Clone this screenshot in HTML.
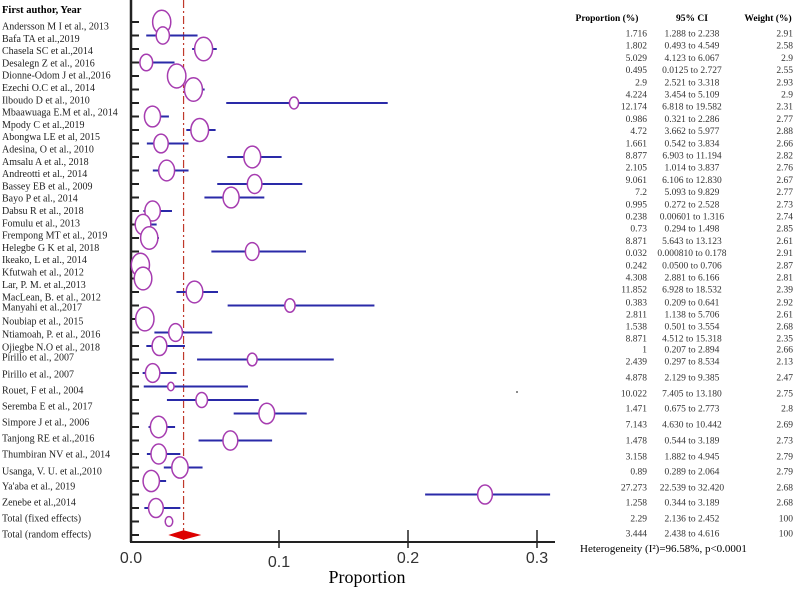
<!DOCTYPE html>
<html><head><meta charset="utf-8"><style>
body{margin:0;background:#fff;}
svg{display:block;font-family:"Liberation Serif",serif;}
</style></head><body>
<svg id="chart" width="796" height="600" viewBox="0 0 796 600" xmlns="http://www.w3.org/2000/svg">
<text x="2" y="13" font-size="10.5" font-weight="bold">First author, Year</text>
<text x="607" y="21" font-size="9.5" font-weight="bold" text-anchor="middle">Proportion (%)</text>
<text x="692" y="21" font-size="9.5" font-weight="bold" text-anchor="middle">95% CI</text>
<text x="768" y="21" font-size="9.5" font-weight="bold" text-anchor="middle">Weight (%)</text>
<text x="367" y="583" font-size="18" text-anchor="middle">Proportion</text>
<text x="580" y="552" font-size="11">Heterogeneity (I²)=96.58%, p&lt;0.0001</text>
<g id="marks"></g>
</svg>
<script>
const studies=["Andersson M I et al., 2013","Bafa TA et al.,2019","Chasela SC et al.,2014","Desalegn Z et al., 2016","Dionne-Odom J et al.,2016","Ezechi O.C et al., 2014","Ilboudo D et al., 2010","Mbaawuaga E.M et al., 2014","Mpody C et al.,2019","Abongwa LE et al, 2015","Adesina, O et al., 2010","Amsalu A et al., 2018","Andreotti et al., 2014","Bassey EB et al., 2009","Bayo P et al., 2014","Dabsu R et al., 2018","Fomulu et al., 2013","Frempong MT et al., 2019","Helegbe G K et al, 2018","Ikeako, L et al., 2014","Kfutwah et al., 2012","Lar, P. M. et al.,2013","MacLean, B. et al., 2012","Manyahi et al.,2017","Noubiap et al., 2015","Ntiamoah, P. et al., 2016","Ojiegbe N.O et al., 2018","Pirillo et al., 2007","Pirillo et al., 2007","Rouet, F et al., 2004","Seremba E et al., 2017","Simpore J et al., 2006","Tanjong RE et al.,2016","Thumbiran NV et al., 2014","Usanga, V. U. et al.,2010","Ya'aba et al., 2019","Zenebe et al.,2014","Total (fixed effects)","Total (random effects)"];
const proportion=["1.716","1.802","5.029","0.495","2.9","4.224","12.174","0.986","4.72","1.661","8.877","2.105","9.061","7.2","0.995","0.238","0.73","8.871","0.032","0.242","4.308","11.852","0.383","2.811","1.538","8.871","1","2.439","4.878","10.022","1.471","7.143","1.478","3.158","0.89","27.273","1.258","2.29","3.444"];
const ciLow=["1.288","0.493","4.123","0.0125","2.521","3.454","6.818","0.321","3.662","0.542","6.903","1.014","6.106","5.093","0.272","0.00601","0.294","5.643","0.000810","0.0500","2.881","6.928","0.209","1.138","0.501","4.512","0.207","0.297","2.129","7.405","0.675","4.630","0.544","1.882","0.289","22.539","0.344","2.136","2.438"];
const ciHigh=["2.238","4.549","6.067","2.727","3.318","5.109","19.582","2.286","5.977","3.834","11.194","3.837","12.830","9.829","2.528","1.316","1.498","13.123","0.178","0.706","6.166","18.532","0.641","5.706","3.554","15.318","2.894","8.534","9.385","13.180","2.773","10.442","3.189","4.945","2.064","32.420","3.189","2.452","4.616"];
const weights=["2.91","2.58","2.9","2.55","2.93","2.9","2.31","2.77","2.88","2.66","2.82","2.76","2.67","2.77","2.73","2.74","2.85","2.61","2.91","2.87","2.81","2.39","2.92","2.61","2.68","2.35","2.66","2.13","2.47","2.75","2.8","2.69","2.73","2.79","2.79","2.68","2.68","100","100"];
const xTicks=[0,0.1,0.2,0.3];
const xTickLabels=["0.0","0.1","0.2","0.3"];

const NS="http://www.w3.org/2000/svg";
const g=document.getElementById('marks');
function mk(tag,attrs,parent){const e=document.createElementNS(NS,tag);for(const k in attrs)e.setAttribute(k,attrs[k]);(parent||g).appendChild(e);return e;}
function xs(v){return 140+v*1265;}
function tickX(v){return v===0?131:150+v*1290;}
function rowY(i){return 22+13.5*i;}
function labelY(i){const b=[297,307,321,334,347,357,374,390,406,422,438,454,471,486,502,518,534];return i<22?26+12.3*i:b[i-22];}
function tableY(i){const b=[302,314,326,338,349,361,377,393,408,424,440,456,471,487,502,518,533];return i<22?33+12.2*i:b[i-22];}

let ax=mk('line',{x1:131,y1:0,x2:131,y2:542,stroke:'#222','stroke-width':2.5});


let bx=mk('line',{x1:130,y1:542,x2:555,y2:542,stroke:'#222','stroke-width':2});


xTicks.forEach((t,i)=>{
  const x=tickX(t);
  if(i>0){const l=mk('line',{x1:x,y1:530,x2:x,y2:548,stroke:'#222','stroke-width':1.5});
  
  }
  const tx=mk('text',{x:x,y:i===1?567:563,'font-size':16,'text-anchor':'middle','font-family':'Liberation Sans, sans-serif',fill:'#333'});
  tx.textContent=xTickLabels[i];
  
  
});
const rv=parseFloat(proportion[proportion.length-1])/100;
const rl=mk('line',{x1:xs(rv),y1:0,x2:xs(rv),y2:540,stroke:'#c0392b','stroke-width':1.2,'stroke-dasharray':'8,3,2,3'});



studies.forEach((s,i)=>{
  const lt=mk('text',{x:2,y:labelY(i)+3.5,'font-size':10,fill:'#222'});
  lt.textContent=s;
  
  
  const ty=tableY(i)+3.5;
  const p=mk('text',{x:647,y:ty,'font-size':9.5,'text-anchor':'end',fill:'#333'});p.textContent=proportion[i];
  
  
  const c=mk('text',{x:692,y:ty,'font-size':9.5,'text-anchor':'middle',fill:'#333'});c.textContent=ciLow[i]+' to '+ciHigh[i];
  
  
  const w=mk('text',{x:793,y:ty,'font-size':9.5,'text-anchor':'end',fill:'#333'});w.textContent=weights[i];
  
  
  const y=rowY(i);
  const tk=mk('line',{x1:131,y1:y,x2:139,y2:y,stroke:'#222','stroke-width':2});
  
  
  const lo=parseFloat(ciLow[i])/100,hi=parseFloat(ciHigh[i])/100,pv=parseFloat(proportion[i])/100;
  if(i===studies.length-1){
    const d=mk('polygon',{points:`${xs(lo)},${y} ${xs(pv)},${y-4} ${xs(hi)},${y} ${xs(pv)},${y+4}`,fill:'#d00',stroke:'#d00','stroke-width':1.5});
    
    
    return;
  }
  const ci=mk('line',{x1:Math.max(xs(lo),133),y1:y,x2:xs(hi),y2:y,stroke:'#2a2aa8','stroke-width':2});
  
  
  const wv=i===studies.length-2?2.2:parseFloat(weights[i]);
  const rx=Math.max(3,3+(wv-2.1)*7.5);
  const m=mk('ellipse',{cx:xs(pv),cy:y,rx:rx,ry:rx*1.3,fill:'#fff',stroke:'#a63cb0','stroke-width':1.5});
  
  
});
const dot=mk('circle',{cx:517,cy:392,r:1,fill:'#666'});


</script>
</body></html>
